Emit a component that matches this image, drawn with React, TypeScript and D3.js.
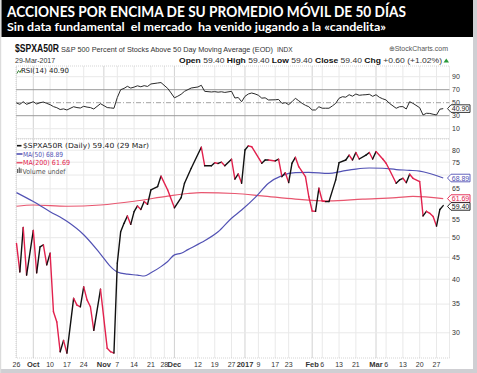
import React from "react";
import * as d3 from "d3";

// --- calendar (trading days) ---
const START = "2016-09-26";
const END = "2017-03-29";
const HOLIDAYS = ["2016-11-24", "2016-12-26", "2017-01-02", "2017-01-16", "2017-02-20"];

// --- series (vertices) ---
const priceData: [string, number][] = [
  ["2016-09-26", 48.5], ["2016-09-27", 41.6], ["2016-09-28", 52.8], ["2016-09-29", 40.9],
  ["2016-10-03", 52.0], ["2016-10-04", 41.4], ["2016-10-05", 47.6], ["2016-10-06", 48.1],
  ["2016-10-07", 43.2], ["2016-10-10", 46.0], ["2016-10-11", 33.6], ["2016-10-12", 31.8],
  ["2016-10-13", 27.1], ["2016-10-14", 28.8], ["2016-10-17", 26.9], ["2016-10-19", 36.1],
  ["2016-10-20", 34.8], ["2016-10-21", 34.5], ["2016-10-24", 38.4], ["2016-10-25", 35.8],
  ["2016-10-26", 34.5], ["2016-10-27", 30.4], ["2016-10-31", 37.9], ["2016-11-02", 27.6],
  ["2016-11-03", 27.1], ["2016-11-04", 26.9], ["2016-11-07", 43.6], ["2016-11-08", 51.6],
  ["2016-11-09", 54.0], ["2016-11-10", 56.2], ["2016-11-11", 53.7], ["2016-11-14", 57.5],
  ["2016-11-15", 59.3], ["2016-11-16", 58.2], ["2016-11-17", 60.7], ["2016-11-18", 59.8],
  ["2016-11-21", 64.6], ["2016-11-23", 65.8], ["2016-11-25", 69.6], ["2016-11-29", 64.6],
  ["2016-12-01", 58.7], ["2016-12-05", 62.0], ["2016-12-06", 67.0], ["2016-12-08", 72.6],
  ["2016-12-13", 81.3], ["2016-12-14", 73.6], ["2016-12-16", 73.6], ["2016-12-19", 74.8],
  ["2016-12-20", 74.5], ["2016-12-21", 75.0], ["2016-12-22", 73.6], ["2016-12-27", 76.2],
  ["2016-12-28", 68.5], ["2016-12-29", 70.4], ["2016-12-30", 67.0], ["2017-01-03", 80.1],
  ["2017-01-04", 81.9], ["2017-01-05", 81.5], ["2017-01-10", 74.6], ["2017-01-11", 75.9],
  ["2017-01-12", 75.9], ["2017-01-17", 75.5], ["2017-01-18", 76.2], ["2017-01-19", 69.4],
  ["2017-01-20", 70.9], ["2017-01-23", 67.2], ["2017-01-24", 74.6], ["2017-01-25", 77.0],
  ["2017-01-26", 73.2], ["2017-01-30", 69.4], ["2017-01-31", 62.3], ["2017-02-01", 57.7],
  ["2017-02-02", 57.6], ["2017-02-03", 65.2], ["2017-02-06", 60.9], ["2017-02-07", 60.7],
  ["2017-02-08", 60.7], ["2017-02-10", 68.2], ["2017-02-13", 74.8], ["2017-02-15", 75.9],
  ["2017-02-16", 77.9], ["2017-02-17", 75.9], ["2017-02-21", 79.0], ["2017-02-22", 76.3],
  ["2017-02-24", 77.9], ["2017-02-27", 79.0], ["2017-02-28", 76.3], ["2017-03-01", 79.4],
  ["2017-03-03", 76.3], ["2017-03-06", 74.6], ["2017-03-07", 72.0], ["2017-03-09", 67.0],
  ["2017-03-10", 68.2], ["2017-03-13", 68.8], ["2017-03-14", 67.2], ["2017-03-15", 70.3],
  ["2017-03-16", 68.8], ["2017-03-20", 67.6], ["2017-03-21", 56.2], ["2017-03-22", 57.6],
  ["2017-03-23", 57.0], ["2017-03-24", 56.0], ["2017-03-27", 53.2], ["2017-03-28", 58.2],
  ["2017-03-29", 59.4],
];

const ma50Data: [string, number][] = [
  ["2016-09-26", 63.7], ["2016-10-03", 60.7], ["2016-10-10", 57.5], ["2016-10-17", 54.6],
  ["2016-10-24", 50.8], ["2016-10-31", 45.8], ["2016-11-03", 42.8], ["2016-11-07", 41.6],
  ["2016-11-10", 41.1], ["2016-11-15", 40.9], ["2016-11-17", 40.7], ["2016-11-21", 41.4],
  ["2016-11-25", 42.8], ["2016-11-29", 44.0], ["2016-12-01", 45.6], ["2016-12-05", 46.0],
  ["2016-12-07", 46.9], ["2016-12-13", 48.7], ["2016-12-20", 51.6], ["2016-12-27", 55.5],
  ["2016-12-30", 58.0], ["2017-01-06", 62.0], ["2017-01-12", 67.0], ["2017-01-19", 69.8],
  ["2017-01-25", 70.9], ["2017-01-31", 71.0], ["2017-02-08", 70.6], ["2017-02-14", 71.5],
  ["2017-02-21", 72.3], ["2017-02-27", 72.7], ["2017-03-03", 72.6], ["2017-03-09", 72.1],
  ["2017-03-15", 71.8], ["2017-03-20", 71.5], ["2017-03-23", 70.6], ["2017-03-29", 68.89],
];

const ma200Data: [string, number][] = [
  ["2016-09-26", 59.2], ["2016-10-03", 59.6], ["2016-10-17", 59.2], ["2016-10-31", 59.6],
  ["2016-11-14", 60.8], ["2016-11-29", 62.5], ["2016-12-07", 63.4], ["2016-12-13", 63.7],
  ["2016-12-28", 63.4], ["2017-01-10", 62.6], ["2017-01-25", 61.5], ["2017-02-08", 60.9],
  ["2017-02-23", 61.5], ["2017-03-09", 62.0], ["2017-03-16", 62.4], ["2017-03-29", 61.69],
];

const rsiData: [string, number][] = [
  ["2016-09-26", 49.5], ["2016-09-27", 47.5], ["2016-09-28", 51.5], ["2016-09-29", 47.5],
  ["2016-10-03", 51.5], ["2016-10-04", 48.0], ["2016-10-05", 50.0], ["2016-10-06", 51.0],
  ["2016-10-07", 49.0], ["2016-10-10", 47.0], ["2016-10-11", 44.0], ["2016-10-12", 42.3],
  ["2016-10-13", 39.5], ["2016-10-14", 40.5], ["2016-10-17", 38.8], ["2016-10-19", 43.8],
  ["2016-10-20", 42.5], ["2016-10-21", 41.8], ["2016-10-24", 44.5], ["2016-10-25", 43.2],
  ["2016-10-26", 42.5], ["2016-10-27", 40.3], ["2016-10-31", 48.5], ["2016-11-02", 42.5],
  ["2016-11-03", 42.0], ["2016-11-04", 41.4], ["2016-11-07", 58.0], ["2016-11-08", 70.0],
  ["2016-11-09", 72.0], ["2016-11-10", 75.2], ["2016-11-11", 72.5], ["2016-11-14", 74.0],
  ["2016-11-15", 76.0], ["2016-11-16", 74.5], ["2016-11-17", 76.2], ["2016-11-18", 75.0],
  ["2016-11-21", 78.8], ["2016-11-23", 80.3], ["2016-11-25", 81.0], ["2016-11-29", 72.0],
  ["2016-11-30", 65.0], ["2016-12-01", 57.5], ["2016-12-02", 60.0], ["2016-12-05", 63.0],
  ["2016-12-06", 67.5], ["2016-12-08", 72.6], ["2016-12-12", 74.2], ["2016-12-13", 76.8],
  ["2016-12-14", 67.5], ["2016-12-16", 66.5], ["2016-12-19", 67.0], ["2016-12-20", 66.2],
  ["2016-12-21", 66.8], ["2016-12-22", 65.8], ["2016-12-27", 67.5], ["2016-12-28", 57.2],
  ["2016-12-29", 58.0], ["2016-12-30", 51.5], ["2017-01-03", 59.8], ["2017-01-04", 63.4],
  ["2017-01-05", 64.9], ["2017-01-06", 63.5], ["2017-01-09", 61.4], ["2017-01-10", 57.0],
  ["2017-01-11", 57.5], ["2017-01-12", 54.2], ["2017-01-17", 54.5], ["2017-01-18", 55.0],
  ["2017-01-19", 49.0], ["2017-01-20", 50.0], ["2017-01-23", 47.0], ["2017-01-24", 51.5],
  ["2017-01-25", 56.8], ["2017-01-26", 53.0], ["2017-01-27", 49.0], ["2017-01-30", 46.0],
  ["2017-01-31", 43.8], ["2017-02-01", 38.8], ["2017-02-02", 38.8], ["2017-02-03", 43.8],
  ["2017-02-06", 41.5], ["2017-02-07", 41.5], ["2017-02-08", 41.5], ["2017-02-09", 45.0],
  ["2017-02-10", 49.0], ["2017-02-13", 56.8], ["2017-02-14", 59.2], ["2017-02-15", 58.5],
  ["2017-02-16", 62.3], ["2017-02-17", 60.0], ["2017-02-21", 63.4], ["2017-02-22", 61.4],
  ["2017-02-23", 62.0], ["2017-02-24", 62.3], ["2017-02-27", 63.0], ["2017-02-28", 59.8],
  ["2017-03-01", 62.3], ["2017-03-02", 58.3], ["2017-03-03", 56.0], ["2017-03-06", 54.2],
  ["2017-03-07", 49.0], ["2017-03-09", 41.4], ["2017-03-10", 43.8], ["2017-03-13", 44.0],
  ["2017-03-14", 40.3], ["2017-03-15", 51.5], ["2017-03-16", 49.0], ["2017-03-20", 42.3],
  ["2017-03-21", 31.1], ["2017-03-22", 33.7], ["2017-03-23", 33.5], ["2017-03-24", 32.2],
  ["2017-03-27", 31.1], ["2017-03-28", 40.0], ["2017-03-29", 40.9],
];

// --- axis labels ---
const xTickDates = [
  "2016-09-26", "2016-10-03", "2016-10-10", "2016-10-17", "2016-10-24", "2016-11-01",
  "2016-11-07", "2016-11-14", "2016-11-21", "2016-11-28", "2016-12-01", "2016-12-12",
  "2016-12-19", "2016-12-27", "2017-01-03", "2017-01-09", "2017-01-17", "2017-01-23",
  "2017-02-01", "2017-02-06", "2017-02-13", "2017-02-21", "2017-03-01", "2017-03-06",
  "2017-03-13", "2017-03-20", "2017-03-27",
];
const xTickLabels = [
  "26", "Oct", "10", "17", "24", "Nov", "7", "14", "21", "28", "Dec", "12", "19", "27",
  "2017", "9", "17", "23", "Feb", "6", "13", "21", "Mar", "6", "13", "20", "27",
];
const monthLabels = ["Oct", "Nov", "Dec", "2017", "Feb", "Mar"];
const priceGrid = [30, 35, 40, 45, 50, 55, 60, 65, 70, 75, 80];
const priceTickLabels = [30, 35, 40, 45, 50, 55, 65, 75, 80];
const rsiTicks = [90, 70, 50, 30, 10];

const TITLE = "ACCIONES POR ENCIMA DE SU PROMEDIO MÓVIL  DE 50 DÍAS";
const SUBTITLE = "Sin data fundamental  el mercado  ha venido jugando a la «candelita»";

const fmt = d3.utcFormat("%Y-%m-%d");
const parse = d3.utcParse("%Y-%m-%d");
const days = d3.utcDay
  .range(parse(START)!, d3.utcDay.offset(parse(END)!, 1))
  .filter((d) => d.getUTCDay() !== 0 && d.getUTCDay() !== 6)
  .map(fmt)
  .filter((s) => !HOLIDAYS.includes(s));
const dayIdx = new Map(days.map((d, i) => [d, i] as [string, number]));

const RED = "#e2214d";
const BLUE = "#5252b4";
const PINK = "#e8566f";
const AX = "Liberation Sans, Arial, sans-serif";
const LEG = "DejaVu Sans, sans-serif";

function ValueBox({ y, text, color }: { y: number; text: string; color: string }) {
  const h = 7.6;
  return (
    <g>
      <path
        d={`M447.5,${y} L451,${y - h / 2} L470,${y - h / 2} L470,${y + h / 2} L451,${y + h / 2} Z`}
        fill="#fff"
        stroke={color}
        strokeWidth={0.9}
      />
      <text x={460.5} y={y + 2.5} fontSize={7} fontFamily={AX} textAnchor="middle" fill={color}>
        {text}
      </text>
    </g>
  );
}

export default function App() {
  const L = 16;
  const R = 449.5;
  const x = d3.scaleLinear().domain([0, 129]).range([16.5, 16.5 + 129 * 3.36]);
  const yP = d3.scaleLog().domain([26.2, 84.5]).range([358, 140]);
  const yR = d3.scaleLinear().domain([0, 100]).range([135.2, 70.2]);

  const px = (d: [string, number]) => x(dayIdx.get(d[0])!);
  const lineP = d3.line<[string, number]>().x(px).y((d) => yP(d[1]));
  const smoothP = d3.line<[string, number]>().x(px).y((d) => yP(d[1])).curve(d3.curveMonotoneX);
  const lineR = d3.line<[string, number]>().x(px).y((d) => yR(d[1]));

  const segs = d3.pairs(priceData);

  return (
    <div style={{ position: "absolute", left: 0, top: 0 }}>
      <svg width={477} height={373} style={{ display: "block" }}>
        <rect x={0} y={0} width={477} height={373} fill="#fff" />
        {/* frame */}
        <rect x={473} y={0} width={4} height={373} fill="#cfcfd3" />
        <rect x={0} y={369} width={477} height={4} fill="#cfcfd3" />
        <rect x={0} y={0} width={1.2} height={373} fill="#dcdcdc" />
        {/* banner */}
        <rect x={1.5} y={0} width={471.5} height={37} fill="#000" />
        <text x={7} y={17} fill="#fff" fontFamily="Lato, Carlito, sans-serif" fontWeight={700}
          fontSize={14.5} textLength={399} lengthAdjust="spacingAndGlyphs">{TITLE}</text>
        <text x={7} y={31} fill="#fff" fontFamily="Lato, Carlito, sans-serif" fontWeight={700}
          fontSize={11.2} textLength={379} lengthAdjust="spacingAndGlyphs" xmlSpace="preserve">{SUBTITLE}</text>

        {/* chart header */}
        <text x={15} y={52} fontFamily={AX} fontWeight={700} fontSize={10} fill="#111"
          textLength={44} lengthAdjust="spacingAndGlyphs">$SPXA50R</text>
        <text x={61} y={52} fontFamily={AX} fontSize={7.4} fill="#333"
          textLength={212} lengthAdjust="spacingAndGlyphs">S&amp;P 500 Percent of Stocks Above 50 Day Moving Average (EOD)</text>
        <text x={277} y={52} fontFamily={AX} fontSize={6.5} fill="#333">INDX</text>
        <text x={448} y={51} fontFamily={AX} fontSize={7} fill="#555" textAnchor="end">⊕StockCharts.com</text>
        <text x={15} y={63} fontFamily={AX} fontSize={7} fill="#333">29-Mar-2017</text>
        <text x={179} y={63} fontFamily={AX} fontSize={7.2} fill="#333" textLength={263} lengthAdjust="spacingAndGlyphs">
          <tspan fontWeight={700} fill="#111">Open</tspan> 59.40 <tspan fontWeight={700} fill="#111">High</tspan> 59.40{" "}
          <tspan fontWeight={700} fill="#111">Low</tspan> 59.40 <tspan fontWeight={700} fill="#111">Close</tspan> 59.40{" "}
          <tspan fontWeight={700} fill="#111">Chg</tspan> +0.60 (+1.02%)
        </text>
        <path d="M443.5,62.5 L449,62.5 L446.25,58.5 Z" fill="#2a9a3a" />

        {/* RSI panel */}
        <g>
          {xTickDates.map((d, i) => (
            <line key={i} x1={x(dayIdx.get(d)!)} x2={x(dayIdx.get(d)!)} y1={66} y2={138.5}
              stroke={monthLabels.includes(xTickLabels[i]) ? "#d2d2d2" : "#e9e9e9"} strokeWidth={1} />
          ))}
          {[90, 10].map((t) => (
            <line key={t} x1={L} x2={R} y1={yR(t)} y2={yR(t)} stroke="#e9e9e9" />
          ))}
          <line x1={L} x2={R} y1={yR(70)} y2={yR(70)} stroke="#9a9a9a" strokeWidth={1} />
          <line x1={L} x2={R} y1={yR(30)} y2={yR(30)} stroke="#9a9a9a" strokeWidth={1} />
          <line x1={L} x2={R} y1={yR(50)} y2={yR(50)} stroke="#8a8a8a" strokeWidth={0.8} strokeDasharray="5,2,1,2" />
          <rect x={L} y={66} width={R - L} height={72.5} fill="none" stroke="#b8b8b8" strokeWidth={0.6} strokeDasharray="1,1" />
          <path d={lineR(rsiData)!} fill="none" stroke="#2a2a2a" strokeWidth={1} />
          {rsiTicks.map((t) => (
            <text key={t} x={452} y={yR(t) + 2.4} fontFamily={AX} fontSize={7} fill="#333">{t}</text>
          ))}
          <ValueBox y={yR(40.9)} text="40.90" color="#222" />
          <g transform="translate(17,69.5)">
            <path d="M0,4 L1.5,1 L3,3 L4.5,0" fill="none" stroke="#2a7a2a" strokeWidth={0.9} />
          </g>
          <text x={21} y={72.5} fontFamily={LEG} fontSize={7} fill="#222" textLength={48} lengthAdjust="spacingAndGlyphs">RSI(14) 40.90</text>
        </g>

        {/* price panel */}
        <g>
          {xTickDates.map((d, i) => (
            <line key={i} x1={x(dayIdx.get(d)!)} x2={x(dayIdx.get(d)!)} y1={139} y2={358}
              stroke={monthLabels.includes(xTickLabels[i]) ? "#d2d2d2" : "#e9e9e9"} strokeWidth={1} />
          ))}
          {priceGrid.map((t) => (
            <line key={t} x1={L} x2={R} y1={yP(t)} y2={yP(t)} stroke="#e9e9e9" />
          ))}
          <rect x={L} y={139} width={R - L} height={219} fill="none" stroke="#b8b8b8" strokeWidth={0.6} strokeDasharray="1,1" />
          <path d={smoothP(ma200Data)!} fill="none" stroke={PINK} strokeWidth={1.2} />
          <path d={smoothP(ma50Data)!} fill="none" stroke={BLUE} strokeWidth={1.2} />
          {segs.map(([a, b], i) => (
            <path key={i} d={lineP([a, b])!} fill="none" stroke={b[1] >= a[1] ? "#111" : RED}
              strokeWidth={1.4} strokeLinecap="round" />
          ))}
          {priceTickLabels.map((t) => (
            <text key={t} x={452} y={yP(t) + 2.4} fontFamily={AX} fontSize={7} fill="#333">{t}</text>
          ))}
          <ValueBox y={yP(68.89)} text="68.89" color={BLUE} />
          <ValueBox y={yP(61.69)} text="61.69" color={RED} />
          <ValueBox y={yP(59.4) + 0.8} text="59.40" color="#111" />

          {/* legend */}
          <line x1={17} x2={21.5} y1={145.7} y2={145.7} stroke="#111" strokeWidth={1.6} />
          <text x={23} y={148.3} fontFamily={LEG} fontSize={7} fill="#222" textLength={126} lengthAdjust="spacingAndGlyphs">$SPXA50R (Daily) 59.40 (29 Mar)</text>
          <line x1={16.5} x2={22.5} y1={154} y2={154} stroke={BLUE} strokeWidth={1.6} />
          <text x={23} y={156.6} fontFamily={LEG} fontSize={7} fill={BLUE} textLength={40} lengthAdjust="spacingAndGlyphs">MA(50) 68.89</text>
          <line x1={16.5} x2={22.5} y1={162.7} y2={162.7} stroke={PINK} strokeWidth={1.6} />
          <text x={23} y={165.3} fontFamily={LEG} fontSize={7} fill={RED} textLength={47} lengthAdjust="spacingAndGlyphs">MA(200) 61.69</text>
          <g fill="#666">
            <rect x={17} y={169} width={1.2} height={4} />
            <rect x={18.7} y={167.5} width={1.2} height={5.5} />
            <rect x={20.4} y={168.5} width={1.2} height={4.5} />
          </g>
          <text x={22.5} y={173.6} fontFamily={LEG} fontSize={7} fill="#555" textLength={43} lengthAdjust="spacingAndGlyphs">Volume undef</text>
        </g>

        {/* x axis labels */}
        {xTickDates.map((d, i) => {
          const lab = xTickLabels[i];
          const bold = monthLabels.includes(lab);
          return (
            <text key={i} x={x(dayIdx.get(d)!)} y={366.5} fontFamily={AX} fontSize={bold ? 7.5 : 7}
              fontWeight={bold ? 700 : 400} fill="#333" textAnchor="middle">{lab}</text>
          );
        })}
      </svg>
    </div>
  );
}
